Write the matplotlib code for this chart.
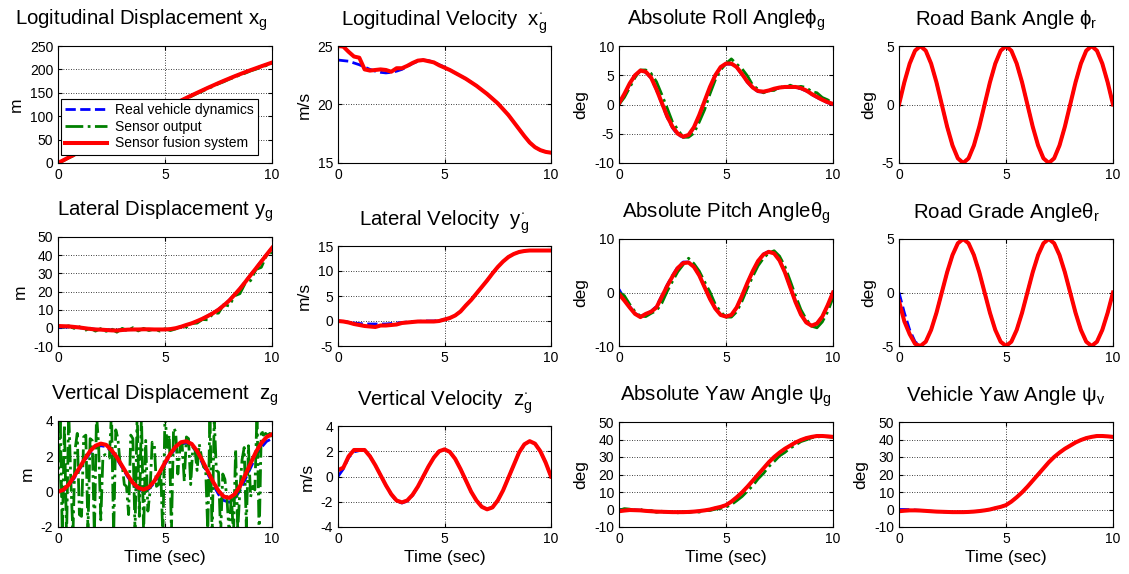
import numpy as np
import matplotlib
matplotlib.use('Agg')
import matplotlib.pyplot as plt

plt.rcParams['font.family'] = ['Liberation Sans', 'DejaVu Sans']
plt.rcParams['mathtext.fontset'] = 'custom'
plt.rcParams['mathtext.rm'] = 'Liberation Sans'
plt.rcParams['mathtext.it'] = 'Liberation Sans'
plt.rcParams['axes.unicode_minus'] = False

# time grids (s)
t = np.linspace(0, 10, 41)
t_fine = np.linspace(0, 10, 101)

# --- row 1 ---
xg_real = [0.0, 5.9, 11.9, 17.7, 23.6, 29.4, 35.2, 40.9, 46.6, 52.3, 58.0, 63.7, 69.5, 75.3,
           81.2, 87.1, 93.0, 98.9, 104.9, 110.7, 116.5, 122.2, 127.9, 133.5, 139.1, 144.6,
           150.0, 155.3, 160.6, 165.7, 170.8, 175.7, 180.5, 185.2, 189.7, 194.1, 198.4,
           202.5, 206.6, 210.6, 214.6]
xg_sensor = [0.0, 4.6, 10.8, 16.1, 22.4, 27.9, 34.1, 39.2, 45.3, 50.6, 56.9, 62.0, 68.1, 73.7,
             79.9, 85.4, 91.7, 97.1, 103.4, 108.9, 115.1, 120.4, 126.5, 131.6, 137.7, 142.8,
             148.6, 153.4, 159.1, 163.8, 169.3, 173.7, 179.0, 183.1, 188.2, 192.0, 196.8,
             200.4, 205.0, 208.5, 212.8]
xg_fusion = xg_real

vx_real = [23.8, 23.75, 23.7, 23.55, 23.4, 23.2, 23.0, 22.85, 22.75, 22.7, 22.75, 22.85, 23.0,
           23.25, 23.5, 23.7, 23.8, 23.75, 23.6, 23.4, 23.2, 22.95, 22.7, 22.45, 22.2, 21.9,
           21.6, 21.25, 20.9, 20.5, 20.1, 19.6, 19.1, 18.5, 17.9, 17.3, 16.75, 16.35, 16.1,
           15.95, 15.88]
vx_fusion = [25.0, 24.95, 24.5, 24.1, 24.0, 23.0, 22.9, 22.95, 23.0, 22.95, 22.8, 23.1, 23.1,
             23.3, 23.55, 23.75, 23.8, 23.7, 23.6, 23.35, 23.15, 22.95, 22.7, 22.45, 22.2, 21.9,
             21.6, 21.25, 20.9, 20.5, 20.1, 19.6, 19.1, 18.5, 17.9, 17.3, 16.75, 16.35, 16.1,
             15.95, 15.88]

roll_real = [0.0, 1.6, 3.4, 4.9, 5.7, 5.5, 4.5, 2.5, 0.2, -2.2, -4.0, -5.2, -5.6, -5.3, -4.0,
             -1.9, 0.5, 2.9, 4.9, 6.3, 6.9, 6.9, 6.3, 5.1, 3.8, 2.8, 2.2, 2.1, 2.3, 2.6, 2.8,
             2.9, 2.9, 2.9, 2.7, 2.3, 1.7, 1.2, 0.7, 0.3, 0.0]
roll_sensor = [0.0, 1.2, 2.9, 4.6, 5.9, 5.9, 5.3, 3.9, 1.7, -0.6, -3.0, -4.3, -5.6, -5.6, -4.9,
               -3.0, -0.9, 1.8, 4.2, 5.9, 7.0, 7.8, 6.9, 6.1, 4.9, 3.3, 2.6, 2.0, 2.4, 2.4, 3.1,
               2.8, 3.3, 2.9, 3.1, 2.9, 2.2, 2.0, 1.2, 0.8, 0.2]
roll_fusion = [0.2, 1.8, 3.6, 5.0, 5.8, 5.6, 4.6, 2.6, 0.3, -2.0, -3.8, -5.0, -5.5, -5.2, -3.9,
               -1.8, 0.6, 3.0, 5.0, 6.4, 7.0, 7.0, 6.4, 5.2, 3.9, 2.9, 2.3, 2.2, 2.4, 2.7, 2.9,
               3.0, 3.0, 3.0, 2.8, 2.4, 1.8, 1.3, 0.8, 0.4, 0.1]

bank_real = [0, 1.9, 3.5, 4.6, 5, 4.6, 3.5, 1.9, 0, -1.9, -3.5, -4.6, -5, -4.6, -3.5, -1.9,
             0, 1.9, 3.5, 4.6, 5, 4.6, 3.5, 1.9, 0, -1.9, -3.5, -4.6, -5, -4.6, -3.5, -1.9,
             0, 1.9, 3.5, 4.6, 5, 4.6, 3.5, 1.9, 0]
bank_fusion = bank_real

# --- row 2 ---
yg_real = [0.3, 0.4, 0.4, 0.3, 0.1, -0.2, -0.5, -0.8, -1.0, -1.1, -1.2, -1.3, -1.2, -1.1, -1.0,
           -1.0, -0.9, -0.9, -0.9, -1.0, -1.0, -0.8, -0.3, 0.5, 1.5, 2.5, 3.7, 5.1, 6.6, 8.3,
           10.2, 12.6, 15.2, 18.4, 21.7, 25.4, 29.2, 32.9, 36.7, 40.4, 44.0]
yg_sensor = [1.2, 0.4, 1.1, -0.3, 0.6, -1.5, -0.2, -1.8, -0.4, -1.9, -0.6, -2.4, -0.3, -1.6, 0.1,
             -1.7, -0.3, -1.5, -0.6, -1.8, -0.5, -1.5, -0.6, 0.9, 0.4, 2.4, 2.6, 4.6, 4.4, 7.9,
             8.1, 12.9, 12.0, 17.6, 18.8, 24.6, 26.0, 32.1, 33.3, 40.0, 41.5]
yg_fusion = [1.0, 0.9, 0.8, 0.5, 0.2, -0.2, -0.6, -0.9, -1.0, -1.2, -1.4, -1.5, -1.2, -1.0, -0.9,
             -0.9, -0.8, -0.8, -0.9, -0.9, -0.9, -0.7, -0.2, 0.6, 1.6, 2.5, 3.7, 5.0, 6.5, 8.1,
             10.0, 12.4, 15.0, 18.2, 21.5, 25.2, 29.0, 32.7, 36.5, 40.3, 44.0]

vy_real = [0.0, -0.1, -0.2, -0.4, -0.5, -0.6, -0.6, -0.6, -0.6, -0.6, -0.5, -0.4, -0.3, -0.2,
           -0.1, -0.1, 0.0, 0.0, 0.0, 0.1, 0.3, 0.6, 1.1, 1.9, 3.1, 4.2, 5.5, 6.8, 8.1, 9.5,
           10.8, 11.9, 12.8, 13.4, 13.8, 14.0, 14.1, 14.1, 14.1, 14.1, 14.1]
vy_fusion = [0.0, -0.1, -0.3, -0.6, -0.8, -1.0, -1.1, -1.2, -0.9, -0.9, -0.8, -0.7, -0.4, -0.3,
             -0.2, -0.1, -0.1, -0.1, -0.1, 0.0, 0.3, 0.6, 1.1, 1.9, 3.1, 4.2, 5.5, 6.8, 8.1,
             9.5, 10.8, 11.9, 12.8, 13.4, 13.8, 14.0, 14.1, 14.1, 14.1, 14.1, 14.1]

pitch_real = [0.6, -1.2, -2.6, -3.9, -4.5, -4.0, -3.5, -2.6, -0.6, 1.4, 3.2, 4.8, 5.7, 5.7, 4.9,
              3.2, 1.0, -1.2, -3.0, -4.2, -4.5, -4.2, -2.8, -0.6, 1.8, 4.0, 5.9, 7.2, 7.7, 7.4,
              6.0, 3.8, 1.0, -1.8, -4.1, -5.6, -6.2, -5.8, -4.5, -2.4, 0.0]
pitch_sensor = [0.0, -0.6, -2.2, -3.6, -4.4, -4.5, -3.9, -3.4, -2.0, 0.2, 2.1, 3.9, 5.2, 6.4,
                5.4, 4.0, 2.0, 0.1, -2.2, -3.6, -4.6, -4.6, -3.6, -1.6, 0.8, 3.0, 5.0, 6.4, 7.4,
                7.8, 6.8, 4.9, 2.2, -0.6, -3.2, -5.0, -6.3, -6.6, -5.5, -3.6, -1.0]
pitch_fusion = [-0.3, -1.5, -2.8, -4.0, -4.6, -4.0, -3.6, -2.8, -0.8, 1.2, 3.0, 4.6, 5.5, 5.6,
                4.8, 3.2, 1.0, -1.2, -3.0, -4.2, -4.5, -4.2, -2.8, -0.6, 1.8, 4.0, 5.9, 7.1,
                7.6, 7.3, 6.0, 3.8, 1.0, -1.8, -4.1, -5.6, -6.2, -5.8, -4.5, -2.4, 0.0]

grade_real = [0, -1.9, -3.5, -4.6, -5, -4.6, -3.5, -1.9, 0, 1.9, 3.5, 4.6, 5, 4.6, 3.5, 1.9,
              0, -1.9, -3.5, -4.6, -5, -4.6, -3.5, -1.9, 0, 1.9, 3.5, 4.6, 5, 4.6, 3.5, 1.9,
              0, -1.9, -3.5, -4.6, -5, -4.6, -3.5, -1.9, 0]
grade_fusion = [-0.8, -2.7, -3.9, -4.8, -5, -4.6, -3.5, -1.9, 0, 1.9, 3.5, 4.6, 5, 4.6, 3.5, 1.9,
                0, -1.9, -3.5, -4.6, -5, -4.6, -3.5, -1.9, 0, 1.9, 3.5, 4.6, 5, 4.6, 3.5, 1.9,
                0, -1.9, -3.5, -4.6, -5, -4.6, -3.5, -1.9, 0]

# --- row 3 ---
zg_real = [0.0, 0.05, 0.3, 0.75, 1.25, 1.75, 2.2, 2.5, 2.6, 2.55, 2.25, 1.85, 1.35, 0.85, 0.4,
           0.12, 0.02, 0.15, 0.5, 1.0, 1.55, 2.05, 2.45, 2.7, 2.75, 2.6, 2.2, 1.6, 1.0, 0.4,
           -0.15, -0.5, -0.6, -0.4, 0.05, 0.7, 1.35, 2.0, 2.5, 2.85, 3.0]
zg_fusion = [0.0, 0.1, 0.4, 0.85, 1.35, 1.85, 2.3, 2.6, 2.72, 2.65, 2.35, 1.95, 1.45, 0.95, 0.5,
             0.22, 0.12, 0.25, 0.6, 1.1, 1.65, 2.15, 2.55, 2.8, 2.85, 2.7, 2.3, 1.75, 1.15,
             0.55, 0.05, -0.28, -0.35, -0.15, 0.3, 0.95, 1.6, 2.25, 2.75, 3.1, 3.25]
zg_sensor = [0.0, 4.5, -2.5, 3.8, -2.6, 4.6, 0.6, -2.4, 2.4, 3.3,
             -1.3, -1.4, 3.1, 3.2, -2.2, 3.0, 2.9, -2.5, 4.4, 2.6,
             -1.6, 2.0, 2.1, 2.0, 1.9, 4.5, -2.5, 3.5, 3.0, 1.6,
             1.5, 0.4, 0.3, -1.3, 3.2, 3.0, -2.3, 4.6, -1.4, 4.4,
             -2.4, 2.9, -1.1, 0.0, 2.8, 2.7, 0.3, 0.4, 1.2, -2.6,
             4.5, 2.5, 3.2, -2.3, 3.6, 3.4, 1.0, 2.5, 2.7, 0.6,
             3.1, 3.0, 0.4, 2.5, 2.4, 1.2, 2.7, 2.0, 1.4, 1.3,
             -2.3, 4.5, -2.6, 4.2, 1.2, 1.1, -2.4, 1.0, 0.7, -0.5,
             -2.4, -0.2, -2.5, 2.4, -2.2, 0.1, 1.8, 2.5, -2.0, 2.6,
             -0.3, 0.3, 0.1, 4.6, -2.6, 3.5, 3.2, 3.3, 3.2, 3.3, 3.1]

vz_real = [0.0, 0.6, 1.5, 1.95, 2.05, 2.05, 1.6, 0.9, 0.1, -0.7, -1.45, -1.95, -2.1, -1.95,
           -1.5, -0.8, 0.0, 0.8, 1.5, 2.0, 2.15, 1.95, 1.4, 0.6, -0.3, -1.2, -1.9, -2.4, -2.6,
           -2.45, -1.9, -1.1, -0.1, 0.9, 1.9, 2.55, 2.8, 2.6, 2.0, 1.1, 0.0]
vz_fusion = [0.5, 0.7, 1.6, 2.1, 2.1, 2.1, 1.6, 0.9, 0.1, -0.7, -1.4, -1.9, -2.05, -1.9, -1.45,
             -0.8, 0.0, 0.8, 1.5, 2.0, 2.15, 1.95, 1.4, 0.6, -0.3, -1.2, -1.9, -2.4, -2.6,
             -2.45, -1.9, -1.1, -0.1, 0.9, 1.9, 2.55, 2.8, 2.6, 2.0, 1.1, 0.0]

yaw_real = [0.0, 0.0, 0.0, -0.2, -0.4, -0.7, -1.0, -1.2, -1.3, -1.4, -1.5, -1.5, -1.5, -1.4,
            -1.2, -0.9, -0.5, 0.0, 0.8, 1.5, 2.5, 4.5, 7.0, 9.8, 13.0, 16.5, 20.0, 23.5, 27.0,
            30.0, 32.5, 34.7, 36.5, 38.3, 39.7, 40.8, 41.5, 42.0, 42.0, 41.8, 41.5]
yaw_sensor = [-0.5, 0.5, 0.2, -0.6, 0.1, -1.2, -0.6, -1.6, -1.0, -1.8, -1.2, -1.9, -1.3, -1.8,
              -1.1, -1.5, -0.5, -0.6, 0.2, 0.6, 1.4, 2.8, 5.0, 7.4, 10.5, 13.6, 17.5, 20.6,
              24.5, 27.4, 30.6, 32.6, 35.1, 36.8, 38.8, 39.8, 41.0, 41.4, 41.8, 41.5, 41.3]
yaw_fusion = [-1.0, -0.6, -0.3, -0.4, -0.5, -0.8, -1.0, -1.2, -1.3, -1.4, -1.5, -1.5, -1.5, -1.4,
              -1.2, -0.9, -0.5, 0.0, 0.8, 1.5, 2.5, 4.5, 7.0, 9.8, 13.0, 16.5, 20.0, 23.5, 27.0,
              30.0, 32.5, 34.7, 36.5, 38.3, 39.7, 40.8, 41.5, 42.0, 42.0, 41.8, 41.5]

vyaw_real = [0.0, 0.0, -0.1, -0.3, -0.5, -0.8, -1.0, -1.2, -1.3, -1.4, -1.5, -1.5, -1.5, -1.4,
             -1.2, -0.9, -0.5, 0.0, 0.8, 1.5, 2.5, 4.5, 7.0, 9.8, 13.0, 16.5, 20.0, 23.5, 27.0,
             30.0, 32.5, 34.7, 36.5, 38.3, 39.7, 40.8, 41.5, 42.0, 42.0, 41.8, 41.5]
vyaw_fusion = [-1.0, -0.7, -0.5, -0.5, -0.6, -0.8, -1.0, -1.2, -1.3, -1.4, -1.5, -1.5, -1.5, -1.4,
               -1.2, -0.9, -0.5, 0.0, 0.8, 1.5, 2.5, 4.5, 7.0, 9.8, 13.0, 16.5, 20.0, 23.5,
               27.0, 30.0, 32.5, 34.7, 36.5, 38.3, 39.7, 40.8, 41.5, 42.0, 42.0, 41.8, 41.5]

panels = [
    (r'Logitudinal Displacement $\mathrm{x_g}$', 'm', [0, 50, 100, 150, 200, 250],
     xg_real, (t, xg_sensor), xg_fusion),
    (r'Logitudinal Velocity  $\mathrm{x^{\cdot}_g}$', 'm/s', [15, 20, 25],
     vx_real, None, vx_fusion),
    (r'Absolute Roll Angle$\mathrm{\phi_g}$', 'deg', [-10, -5, 0, 5, 10],
     roll_real, (t, roll_sensor), roll_fusion),
    (r'Road Bank Angle $\mathrm{\phi_r}$', 'deg', [-5, 0, 5],
     bank_real, None, bank_fusion),
    (r'Lateral Displacement $\mathrm{y_g}$', 'm', [-10, 0, 10, 20, 30, 40, 50],
     yg_real, (t, yg_sensor), yg_fusion),
    (r'Lateral Velocity  $\mathrm{y^{\cdot}_g}$', 'm/s', [-5, 0, 5, 10, 15],
     vy_real, None, vy_fusion),
    (r'Absolute Pitch Angle$\mathrm{\theta_g}$', 'deg', [-10, 0, 10],
     pitch_real, (t, pitch_sensor), pitch_fusion),
    (r'Road Grade Angle$\mathrm{\theta_r}$', 'deg', [-5, 0, 5],
     grade_real, None, grade_fusion),
    (r'Vertical Displacement  $\mathrm{z_g}$', 'm', [-2, 0, 2, 4],
     zg_real, (t_fine, zg_sensor), zg_fusion),
    (r'Vertical Velocity  $\mathrm{z^{\cdot}_g}$', 'm/s', [-4, -2, 0, 2, 4],
     vz_real, None, vz_fusion),
    (r'Absolute Yaw Angle $\mathrm{\psi_g}$', 'deg', [-10, 0, 10, 20, 30, 40, 50],
     yaw_real, (t, yaw_sensor), yaw_fusion),
    (r'Vehicle Yaw Angle $\mathrm{\psi_v}$', 'deg', [-10, 0, 10, 20, 30, 40, 50],
     vyaw_real, None, vyaw_fusion),
]

W, H = 1129, 574
col_x = [(58, 272), (338, 551), (619, 833), (899, 1113)]
row_top = [[46, 46, 46, 46], [237, 246, 239, 239], [421, 426, 422, 422]]
row_bottom = [163, 346, 527]

fig = plt.figure(figsize=(W / 100, H / 100), dpi=100)

for i, (title, ylab, yt, real, sensor, fusion) in enumerate(panels):
    r, c = divmod(i, 4)
    x0, x1 = col_x[c]
    y0, y1 = row_top[r][c], row_bottom[r]
    ax = fig.add_axes([x0 / W, 1 - y1 / H, (x1 - x0) / W, (y1 - y0) / H])

    ax.plot(t, real, color='blue', ls='--', lw=2, label='Real vehicle dynamics')
    if sensor is not None:
        ax.plot(sensor[0], sensor[1], color='green', ls='-.', lw=2, label='Sensor output')
    ax.plot(t, fusion, color='red', lw=2.9, label='Sensor fusion system')

    ax.set_xlim(0, 10)
    ax.set_ylim(yt[0], yt[-1])
    ax.set_xticks([0, 5, 10])
    ax.set_yticks(yt)
    ax.grid(True, color='black', ls=(0, (1, 2)), lw=0.6)
    ax.tick_params(direction='in', top=True, right=True, length=3, labelsize=10)
    for s in ax.spines.values():
        s.set_linewidth(0.8)
    ax.set_ylabel(ylab, fontsize=12.5, labelpad=4)
    ttl = ax.set_title(title, fontsize=14.7, pad=15)
    if i == 0:
        ttl.set_x(0.39)
    if r == 2:
        ax.set_xlabel('Time (sec)', fontsize=12.5, labelpad=3)
    if i == 0:
        leg = ax.legend(loc='upper left', bbox_to_anchor=(0.014, 0.55), borderaxespad=0,
                        fontsize=10, handlelength=3, labelspacing=0.2, borderpad=0.3,
                        handletextpad=0.6, fancybox=False, framealpha=1, edgecolor='black')
        leg.get_frame().set_linewidth(0.8)

fig.savefig('out.png', dpi=100)
